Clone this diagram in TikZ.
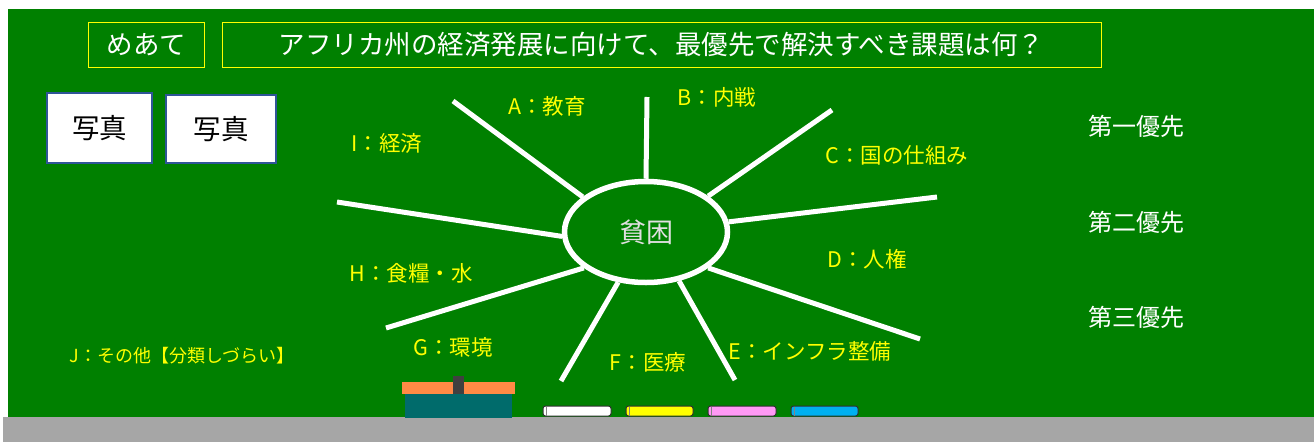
\documentclass[tikz,border=0pt]{standalone}
\usepackage{fontspec}
\setmainfont{Noto Sans CJK JP}
\usetikzlibrary{shapes.geometric}

\definecolor{board}{HTML}{008000}
\definecolor{tray}{HTML}{A6A6A6}
\definecolor{chalkyellow}{HTML}{FFFF00}
\definecolor{photoedge}{HTML}{2F5597}
\definecolor{eraserpad}{HTML}{FF8A45}
\definecolor{eraserbody}{HTML}{006B6B}
\definecolor{eraserknob}{HTML}{404040}
\definecolor{chalkpink}{HTML}{FF99F5}
\definecolor{chalkblue}{HTML}{00B0F0}
\definecolor{chalkrim}{HTML}{303030}

\tikzset{
  framebox/.style={draw=chalkyellow, line width=1pt, inner sep=0pt, text=white, font=\fontsize{26.5}{30}\selectfont},
  photo/.style={draw=photoedge, fill=white, line width=2pt, inner sep=0pt, text=black, font=\fontsize{27.5}{30}\selectfont},
  topic/.style={text=chalkyellow, inner sep=0pt, font=\fontsize{21.5}{24}\selectfont},
  rank/.style={text=white, inner sep=0pt, font=\fontsize{24}{28}\selectfont},
  spoke/.style={draw=white, line width=5pt},
  hub/.style={ellipse, draw=white, line width=5.5pt, inner sep=0pt, text=white!88!black, font=\fontsize{27}{30}\selectfont},
  chalk/.style={draw=chalkrim, line width=1pt, rounded corners=2.5pt},
  chalkend/.style={draw=chalkrim!60, line width=0.8pt}
}

\begin{document}
\begin{tikzpicture}[x=1pt, y=-1pt]
  \useasboundingbox (0,0) rectangle (1314,442);
  \fill[white] (0,0) rectangle (1314,442);
  % blackboard and chalk tray
  \fill[board] (8,9) rectangle (1314,417);
  \fill[tray] (3,417) rectangle (1314,442);

  % heading
  \node[framebox, minimum width=116pt, minimum height=45pt] (goal) at (146,44.5) {めあて};
  \node[framebox, minimum width=879pt, minimum height=45pt] (question) at (661.5,44.5)
    {アフリカ州の経済発展に向けて、最優先で解決すべき課題は何？};

  % photo placeholders
  \node[photo, minimum width=105pt, minimum height=70pt] (photo1) at (99.5,128) {写真};
  \node[photo, minimum width=110pt, minimum height=68pt] (photo2) at (221,129) {写真};

  % central topic
  \node[hub, minimum width=163pt, minimum height=101pt] (pov) at (646,232) {貧困};

  % outer ends of the spokes
  \coordinate (sA) at (453,101);
  \coordinate (sB) at (647,97);
  \coordinate (sC) at (832,110);
  \coordinate (sD) at (937,197);
  \coordinate (sE) at (920,339);
  \coordinate (sEF) at (735,380);
  \coordinate (sF) at (561,381);
  \coordinate (sH) at (386,328);
  \coordinate (sI) at (337,202);

  \draw[spoke] (sA) -- (pov.151);
  \draw[spoke] (sB) -- (pov.90);
  \draw[spoke] (sC) -- (pov.30);
  \draw[spoke] (sD) -- (pov.7);
  \draw[spoke] (sE) -- (pov.-30);
  \draw[spoke] (sEF) -- (pov.-56);
  \draw[spoke] (sF) -- (pov.-119);
  \draw[spoke] (sH) -- (pov.-150);
  \draw[spoke] (sI) -- (pov.-177);

  % topic labels
  \node[topic] (tA) at (547,106) {A：教育};
  \node[topic] (tB) at (717,97) {B：内戦};
  \node[topic] (tI) at (387,143) {I：経済};
  \node[topic] (tC) at (897,155) {C：国の仕組み};
  \node[topic] (tD) at (867,259) {D：人権};
  \node[topic] (tH) at (411,273) {H：食糧・水};
  \node[topic] (tG) at (453,347) {G：環境};
  \node[topic] (tF) at (648,362) {F：医療};
  \node[topic] (tE) at (810,351) {E：インフラ整備};
  \node[topic, font=\fontsize{18}{22}\selectfont] (tJ) at (182,356) {J：その他【分類しづらい】};

  % priority column
  \node[rank] (r1) at (1136,126) {第一優先};
  \node[rank] (r2) at (1136,222) {第二優先};
  \node[rank] (r3) at (1136,317) {第三優先};

  % eraser
  \fill[eraserbody] (405,394) rectangle (512,418);
  \fill[eraserpad] (402,382) rectangle (515,394);
  \fill[eraserknob] (453,376) rectangle (464,394);

  % chalk sticks, each with a worn left tip
  \draw[chalk, fill=white] (543,406) rectangle (611,416);
  \draw[chalkend] (546.5,406.5) -- (546.5,415.5);
  \draw[chalk, fill=chalkyellow] (626,406) rectangle (693,416);
  \draw[chalkend] (629.5,406.5) -- (629.5,415.5);
  \draw[chalk, fill=chalkpink] (708,406) rectangle (776,416);
  \draw[chalkend] (711.5,406.5) -- (711.5,415.5);
  \draw[chalk, fill=chalkblue] (791,406) rectangle (858,416);
  \draw[chalkend] (794.5,406.5) -- (794.5,415.5);
\end{tikzpicture}
\end{document}
